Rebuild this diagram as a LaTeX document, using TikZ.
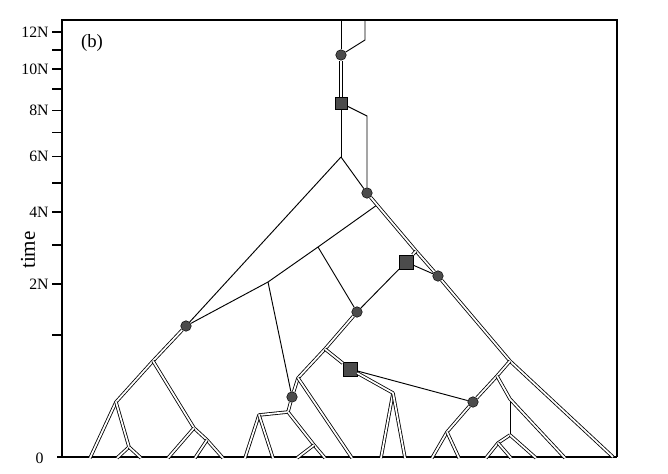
\documentclass[tikz,border=0pt]{standalone}
\usepackage{fontspec}
\setmainfont{Liberation Serif}
\usetikzlibrary{positioning}
\tikzset{
    sencilla/.style={line width=0.8pt, line join=round},
    doble/.style={line width=0.7pt, double=white, double distance=1.5pt, line join=round},
    marco/.style={line width=1pt},
    mutacion/.style={circle, draw=black, fill=black!70, inner sep=0pt, minimum size=9pt},
    cuadro/.style={rectangle, draw=black, fill=black!70, inner sep=0pt, minimum size=10.5pt},
    etiqueta/.style={font=\fontsize{13.5}{14}\selectfont, anchor=east, inner sep=1pt},
}

\begin{document}
\begin{tikzpicture}[x=0.03cm, y=-0.03cm]
\useasboundingbox (0,0) rectangle (668,473);
\draw[marco] (617,457) -- (617,20) -- (62,20) -- (62,457);
\draw[marco] (57,457) -- (617,457);
\node[etiqueta] (l0) at (45,458) {0};
\foreach \t in {1,...,12} {
    \pgfmathsetmacro{\yy}{458-123*sqrt(\t)}
    \draw[marco] (52,\yy) -- (62,\yy);
}
\foreach \t in {2,4,...,12} {
    \pgfmathsetmacro{\yy}{458-123*sqrt(\t)}
    \node[etiqueta] (l\t) at (50,\yy) {\t N};
}
\node[rotate=90, font=\fontsize{18}{19}\selectfont] (tiempo) at (28,250) {time};
\node[font=\fontsize{16}{17}\selectfont] (panel) at (92,43) {(b)};
\coordinate (t1) at (341,20);
\coordinate (t2) at (365,20);
\coordinate (t2b) at (365,40);
\coordinate (b1) at (367,116);
\coordinate (f0) at (341,157);
\coordinate (j2) at (377,205);
\coordinate (j1) at (416,251);
\coordinate (k) at (510,361);
\coordinate (k2) at (497,376);
\coordinate (e0) at (613,457);
\coordinate (p1) at (318,247);
\coordinate (p2) at (268,282);
\coordinate (l1) at (153,361);
\coordinate (l2) at (116,402);
\coordinate (l3) at (129,447);
\coordinate (l4) at (194,428);
\coordinate (l5) at (207,440);
\coordinate (m1) at (325,349);
\coordinate (m2) at (298,378);
\coordinate (m3) at (288,412);
\coordinate (m4) at (259,415);
\coordinate (m5) at (393,393);
\coordinate (m6) at (314,445);
\coordinate (r1) at (447,432);
\coordinate (r2) at (510,399);
\coordinate (r4) at (510,435);
\coordinate (r5) at (498,443);
\foreach \n/\x in {1/90, 2/117, 3/141, 4/168, 5/223, 6/195, 7/245, 8/273, 9/325, 10/297,
    11/352, 12/381, 13/405, 14/432, 15/459, 16/565, 17/486, 18/511, 19/536} {
    \coordinate (e\n) at (\x,458);
}
\node[mutacion] (c1) at (341,55) {};
\node[mutacion] (c2) at (367,193) {};
\node[mutacion] (c3) at (438,276) {};
\node[mutacion] (c4) at (186,326) {};
\node[mutacion] (c5) at (357,312) {};
\node[mutacion] (c6) at (292,397) {};
\node[mutacion] (c7) at (473,402) {};
\node[cuadro] (s1) at (341,103) {};
\node[cuadro, minimum size=12pt] (s2) at (406,262) {};
\node[cuadro, minimum size=12pt] (s3) at (350,369) {};
\draw[sencilla] (t1) -- (c1);
\draw[sencilla] (t2) -- (t2b) -- (c1);
\draw[doble] (c1) -- (s1);
\draw[sencilla] (s1) -- (f0);
\draw[sencilla] (s1) -- (b1) -- (c2);
\draw[sencilla] (f0) -- (c2);
\draw[sencilla] (f0) -- (c4);
\draw[sencilla] (j2) -- (p1) -- (p2) -- (c4);
\draw[sencilla] (p1) -- (c5);
\draw[sencilla] (p2) -- (c6);
\draw[sencilla] (s2) -- (c5);
\draw[sencilla] (s2) -- (c3);
\draw[sencilla] (s3) -- (c7);
\draw[sencilla] (r2) -- (r4);
\draw[doble] (c2) -- (j1) -- (c3);
\draw[doble] (c3) -- (k) -- (e0);
\draw[doble] (j1) -- (s2);
\draw[doble] (c4) -- (l1) -- (l2) -- (e1);
\draw[doble] (l2) -- (l3) -- (e2);
\draw[doble] (l3) -- (e3);
\draw[doble] (l1) -- (l4) -- (l5) -- (e5);
\draw[doble] (l4) -- (e4);
\draw[doble] (l5) -- (e6);
\draw[doble] (c5) -- (m1) -- (m2) -- (c6);
\draw[doble] (c6) -- (m3) -- (m4) -- (e7);
\draw[doble] (m4) -- (e8);
\draw[doble] (m3) -- (m6) -- (e9);
\draw[doble] (m6) -- (e10);
\draw[doble] (m2) -- (e11);
\draw[doble] (m1) -- (s3);
\draw[doble] (s3) -- (m5) -- (e12);
\draw[doble] (m5) -- (e13);
\draw[doble] (c7) -- (k2) -- (k);
\draw[doble] (c7) -- (r1) -- (e14);
\draw[doble] (r1) -- (e15);
\draw[doble] (k2) -- (r2) -- (e16);
\draw[doble] (r4) -- (r5) -- (e17);
\draw[doble] (r5) -- (e18);
\draw[doble] (r4) -- (e19);
\end{tikzpicture}
\end{document}
